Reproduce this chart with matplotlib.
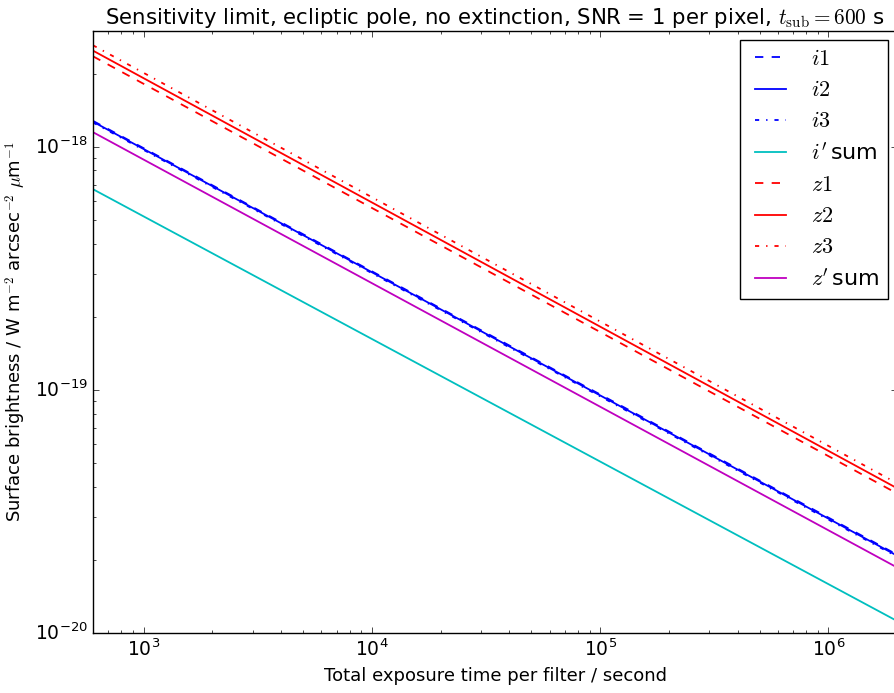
import numpy as np
import matplotlib
matplotlib.use("Agg")
import matplotlib.pyplot as plt

plt.style.use('classic')
plt.rcParams['lines.linewidth'] = 1.3

# endpoints of each curve, t in seconds
t_ends = [600.0, 2.0e6]
i1 = [1.28e-18, 2.10e-20]
i2 = [1.27e-18, 2.08e-20]
i3 = [1.26e-18, 2.06e-20]
i_sum = [6.70e-19, 1.12e-20]
z1 = [2.36e-18, 3.75e-20]
z2 = [2.49e-18, 3.94e-20]
z3 = [2.62e-18, 4.13e-20]
z_sum = [1.15e-18, 1.86e-20]

fig = plt.figure(figsize=(8.94, 6.93), dpi=100, facecolor='white')
ax = fig.add_axes([0.104, 0.0866, 0.8995, 0.8687])

ax.plot(t_ends, i1, 'b--', label='$i1$')
ax.plot(t_ends, i2, 'b-', label='$i2$')
ax.plot(t_ends, i3, 'b-.', label='$i3$')
ax.plot(t_ends, i_sum, 'c-', label="$i'\\,$sum")
ax.plot(t_ends, z1, 'r--', label='$z1$')
ax.plot(t_ends, z2, 'r-', label='$z2$')
ax.plot(t_ends, z3, 'r-.', label='$z3$')
ax.plot(t_ends, z_sum, 'm-', label="$z'\\,$sum")

ax.set_xscale('log')
ax.set_yscale('log')
ax.set_xlim(600, 2e6)
ax.set_ylim(1e-20, 3e-18)
ax.tick_params(labelsize=13.5)

ax.set_xlabel('Total exposure time per filter / second', fontsize=13)
ax.set_ylabel(r'Surface brightness / W m$^{-2}$ arcsec$^{-2}$ $\mu$m$^{-1}$', fontsize=13)
ax.set_title(r'Sensitivity limit, ecliptic pole, no extinction, SNR = 1 per pixel, $t_\mathrm{sub} = 600$ s',
             fontsize=15.3)

ax.legend(loc='upper right', fontsize=16, borderaxespad=0.42)

fig.savefig('out.png', dpi=100, facecolor='white')
